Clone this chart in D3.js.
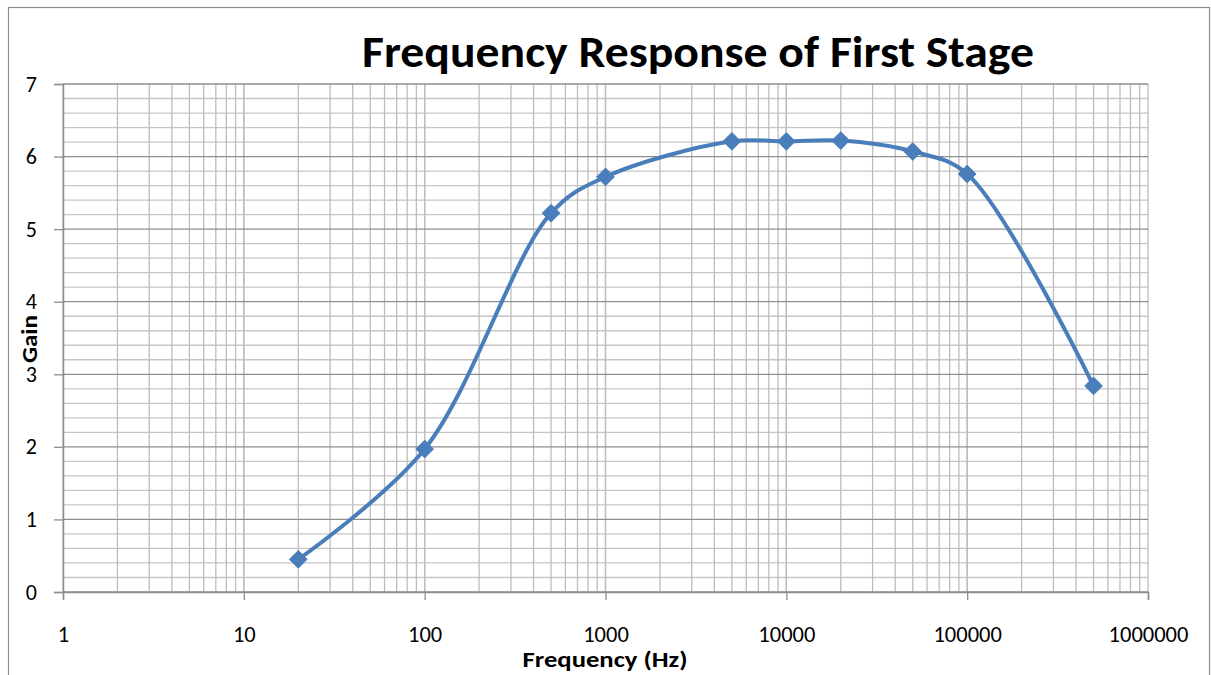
<!DOCTYPE html>
<html><head><meta charset="utf-8">
<script src="https://cdn.jsdelivr.net/npm/d3@7"></script>
<style>html,body{margin:0;padding:0;background:#fff;}svg{display:block;}</style>
</head><body>
<svg id="c" width="1211" height="675"></svg>
<script>
const frequencies = [20, 100, 500, 1000, 5000, 10000, 20000, 50000, 100000, 500000];
const gains = [0.45, 1.97, 5.22, 5.72, 6.21, 6.21, 6.22, 6.07, 5.76, 2.84];
const xTickValues = [1, 10, 100, 1000, 10000, 100000, 1000000];
const xTickLabels = ["1", "10", "100", "1000", "10000", "100000", "1000000"];
const yTickValues = [0, 1, 2, 3, 4, 5, 6, 7];
const titleText = "Frequency Response of First Stage";
const xTitle = "Frequency (Hz)";
const yTitle = "Gain";

const svg = d3.select("#c");
const L = 63, R = 1148, T = 84, B = 592;
const x = d3.scaleLog().domain([1, 1e6]).range([L, R]);
const y = d3.scaleLinear().domain([0, 7]).range([B, T]);
const font = "Calibri, Carlito, 'Open Sans', 'Liberation Sans', sans-serif";

svg.append("rect").attr("x", 8.5).attr("y", 7.5).attr("width", 1201).attr("height", 680)
  .attr("fill", "none").attr("stroke", "#8c8c8c").attr("stroke-width", 1.2);

const grid = svg.append("g");
d3.range(0, 35).map(i => i / 5).filter(v => Math.abs(v - Math.round(v)) > 1e-6).forEach(v => {
  grid.append("line").attr("x1", L).attr("x2", R).attr("y1", y(v)).attr("y2", y(v))
    .attr("stroke", "#c6c6c6").attr("stroke-width", 1.3);
});
const vlines = [];
for (let d = 1; d < 1e6; d *= 10) for (let k = 1; k <= 10; k++) vlines.push(d * k);
vlines.forEach(v => {
  grid.append("line").attr("x1", x(v)).attr("x2", x(v)).attr("y1", T).attr("y2", B)
    .attr("stroke", "#bdbdbd").attr("stroke-width", 1.3);
});
yTickValues.forEach(v => {
  grid.append("line").attr("x1", L).attr("x2", R).attr("y1", y(v)).attr("y2", y(v))
    .attr("stroke", "#8e8e8e").attr("stroke-width", 1.3);
});

const yAxis = d3.axisLeft(y).tickValues(yTickValues).tickSize(9).tickPadding(17).tickFormat(d3.format("d"));
const gy = svg.append("g").attr("transform", `translate(${L},0)`).call(yAxis);
gy.select(".domain").attr("stroke", "#8e8e8e").attr("stroke-width", 1.5);
gy.selectAll(".tick line").attr("stroke", "#8e8e8e").attr("stroke-width", 1.3);
gy.selectAll("text").attr("font-family", font).attr("font-size", 22).attr("fill", "#000");

const xAxis = d3.axisBottom(x).tickValues(xTickValues).tickSize(8).tickPadding(26)
  .tickFormat((d, i) => xTickLabels[i]);
const gx = svg.append("g").attr("transform", `translate(0,${B})`).call(xAxis);
gx.select(".domain").attr("stroke", "#8e8e8e").attr("stroke-width", 1.5);
gx.selectAll(".tick line").attr("stroke", "#8e8e8e").attr("stroke-width", 1.3);
gx.selectAll("text").attr("font-family", font).attr("font-size", 22.5).attr("fill", "#000");

svg.append("text").attr("x", 698).attr("y", 67).attr("text-anchor", "middle")
  .attr("font-family", font).attr("font-weight", 800).attr("font-size", 44)
  .attr("textLength", 672).attr("lengthAdjust", "spacingAndGlyphs").text(titleText);
svg.append("text").attr("x", 605).attr("y", 667).attr("text-anchor", "middle")
  .attr("font-family", font).attr("font-weight", "bold").attr("font-size", 22)
  .attr("textLength", 165).attr("lengthAdjust", "spacingAndGlyphs").text(xTitle);
svg.append("text").attr("transform", "translate(37,339) rotate(-90)").attr("text-anchor", "middle")
  .attr("font-family", font).attr("font-weight", "bold").attr("font-size", 22)
  .attr("textLength", 48).attr("lengthAdjust", "spacingAndGlyphs").text(yTitle);

const pts = frequencies.map((f, i) => [f, gains[i]]);
const line = d3.line().x(d => x(d[0])).y(d => y(d[1])).curve(d3.curveCatmullRom.alpha(0.5));
svg.append("path").datum(pts).attr("d", line).attr("fill", "none")
  .attr("stroke", "#4a7ebb").attr("stroke-width", 4).attr("stroke-linejoin", "round");
svg.append("g").selectAll("path").data(pts).join("path")
  .attr("transform", d => `translate(${x(d[0])},${y(d[1])})`)
  .attr("d", d3.symbol().type(d3.symbolDiamond2).size(200))
  .attr("fill", "#4a7ebb").attr("stroke", "#4a7ebb").attr("stroke-width", 1);
</script>
</body></html>
